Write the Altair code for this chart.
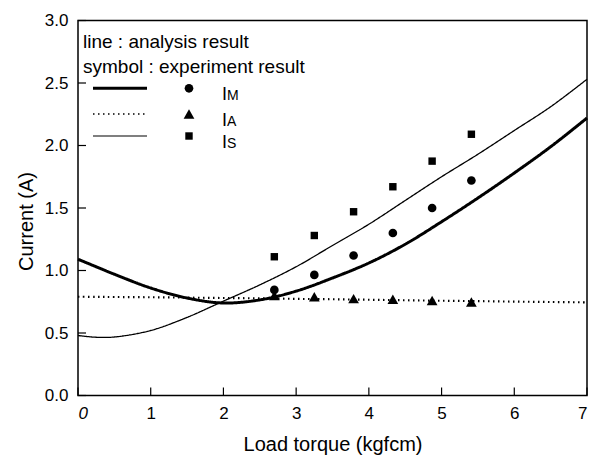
import altair as alt
import pandas as pd

# ---------------- data ----------------
series = ["IM", "IA", "IS"]

# analysis results (lines)
line_x = [0.0, 0.25, 0.5, 1.0, 1.5, 2.0, 2.5, 3.0, 3.5, 4.0, 4.5, 5.0, 5.5, 6.0, 6.5, 7.0]
im_line = [1.09, 1.03, 0.97, 0.86, 0.78, 0.74, 0.765, 0.835, 0.94, 1.06, 1.21, 1.39, 1.58, 1.78, 1.99, 2.22]
ia_line = [0.790, 0.789, 0.788, 0.786, 0.783, 0.780, 0.777, 0.773, 0.770, 0.766, 0.762, 0.758, 0.755, 0.751, 0.748, 0.745]
is_line = [0.48, 0.466, 0.468, 0.52, 0.625, 0.755, 0.885, 1.03, 1.20, 1.37, 1.56, 1.75, 1.93, 2.12, 2.31, 2.53]

# experiment results (symbols)
exp_x = [2.70, 3.25, 3.79, 4.33, 4.87, 5.41]
im_exp = [0.845, 0.965, 1.12, 1.30, 1.50, 1.72]
ia_exp = [0.80, 0.79, 0.775, 0.77, 0.76, 0.748]
is_exp = [1.11, 1.28, 1.47, 1.67, 1.875, 2.09]

x_ticks = [0, 1, 2, 3, 4, 5, 6, 7]
y_ticks = [0.0, 0.5, 1.0, 1.5, 2.0, 2.5, 3.0]

legend_title_1 = "line : analysis result"
legend_title_2 = "symbol : experiment result"
legend_subs = ["M", "A", "S"]

# ---------------- tables ----------------
lines_df = pd.concat([
    pd.DataFrame({"x": line_x, "y": im_line, "series": "IM"}),
    pd.DataFrame({"x": line_x, "y": ia_line, "series": "IA"}),
    pd.DataFrame({"x": line_x, "y": is_line, "series": "IS"}),
])
exp_values = {"IM": im_exp, "IA": ia_exp, "IS": is_exp}

W, H = 509, 375
FONT = "Liberation Sans"
DOT = [1.5, 3.5]

x_scale = alt.Scale(domain=[0, 7], nice=False, zero=False)
y_scale = alt.Scale(domain=[0, 3], nice=False)

x_axis = alt.Axis(
    values=x_ticks, format="d", title="Load torque (kgfcm)", grid=False,
    ticks=False, tickSize=0, domain=False, labelPadding=10, labelFontSize=17,
    labelColor="black", titleFontSize=20, titleFontWeight="normal", titleColor="black",
    titleY=55, titleBaseline="alphabetic",
    labelFontStyle=alt.expr("datum.value == 0 ? 'italic' : 'normal'"),
)
y_axis = alt.Axis(
    values=y_ticks, format=".1f", title="Current (A)", grid=False,
    ticks=False, tickSize=0, domain=False, labelPadding=10, labelFontSize=17,
    labelColor="black", titleFontSize=20, titleFontWeight="normal", titleColor="black",
    titleAngle=-90, titleX=-46, titleY=200.5, titleBaseline="alphabetic", titleAlign="center",
)

X = alt.X("x:Q", scale=x_scale, axis=x_axis)
Y = alt.Y("y:Q", scale=y_scale, axis=y_axis)

lines = alt.Chart(lines_df).mark_line(color="black", interpolate="catmull-rom").encode(
    x=X, y=Y,
    detail="series:N",
    strokeWidth=alt.StrokeWidth("series:N", scale=alt.Scale(domain=series, range=[3, 1.3, 1.2]), legend=None),
    strokeDash=alt.StrokeDash("series:N", scale=alt.Scale(domain=series, range=[[1, 0], DOT, [1, 0]]), legend=None),
)

shapes = ["circle", "triangle-up", "square"]
sizes = [75, 115, 55]

layers = [lines]
for i, s in enumerate(series):
    df = pd.DataFrame({"x": exp_x, "y": exp_values[s]})
    layers.append(alt.Chart(df).mark_point(
        filled=True, color="black", opacity=1, shape=shapes[i], size=sizes[i]
    ).encode(x=X, y=Y))

xt = alt.Chart(pd.DataFrame({"x": x_ticks})).mark_rule(color="black", strokeWidth=1.2).encode(
    x=X, y=alt.value(H), y2=alt.value(H - 8)
)
yt = alt.Chart(pd.DataFrame({"y": y_ticks})).mark_rule(color="black", strokeWidth=1.2).encode(
    y=Y, x=alt.value(0), x2=alt.value(8)
)
layers += [xt, yt]

# ---------------- legend (drawn inside the plot) ----------------
one = pd.DataFrame({"k": [0]})
layers.append(alt.Chart(pd.DataFrame({"t": [legend_title_1]})).mark_text(
    align="left", baseline="alphabetic", fontSize=19, font=FONT, color="black"
).encode(x=alt.value(5), y=alt.value(27), text="t:N"))
layers.append(alt.Chart(pd.DataFrame({"t": [legend_title_2]})).mark_text(
    align="left", baseline="alphabetic", fontSize=19, font=FONT, color="black"
).encode(x=alt.value(5), y=alt.value(52), text="t:N"))

row_y = [67.8, 93.5, 115.5]
widths = [3, 1.3, 1.2]
dashes = [[1, 0], DOT, [1, 0]]
for i in range(3):
    layers.append(alt.Chart(one).mark_rule(color="black", strokeWidth=widths[i], strokeDash=dashes[i]).encode(
        x=alt.value(15), x2=alt.value(69), y=alt.value(row_y[i])))
    layers.append(alt.Chart(one).mark_point(filled=True, color="black", opacity=1, shape=shapes[i], size=sizes[i]).encode(
        x=alt.value(111), y=alt.value(row_y[i])))
    layers.append(alt.Chart(pd.DataFrame({"t": ["I"]})).mark_text(
        align="left", baseline="alphabetic", fontSize=18, font=FONT, color="black"
    ).encode(x=alt.value(144), y=alt.value(row_y[i] + 12), text="t:N"))
    layers.append(alt.Chart(pd.DataFrame({"t": [legend_subs[i]]})).mark_text(
        align="left", baseline="alphabetic", fontSize=14, font=FONT, color="black"
    ).encode(x=alt.value(149), y=alt.value(row_y[i] + 12), text="t:N"))

chart = alt.layer(*layers).properties(
    width=W, height=H,
    padding={"left": 70, "top": 12.5, "right": 9, "bottom": 60},
    autosize=alt.AutoSizeParams(type="none"),
).configure(font=FONT).configure_view(stroke="black", strokeWidth=1.5)

chart.save("out.html", embed_options={"renderer": "svg", "actions": False})
